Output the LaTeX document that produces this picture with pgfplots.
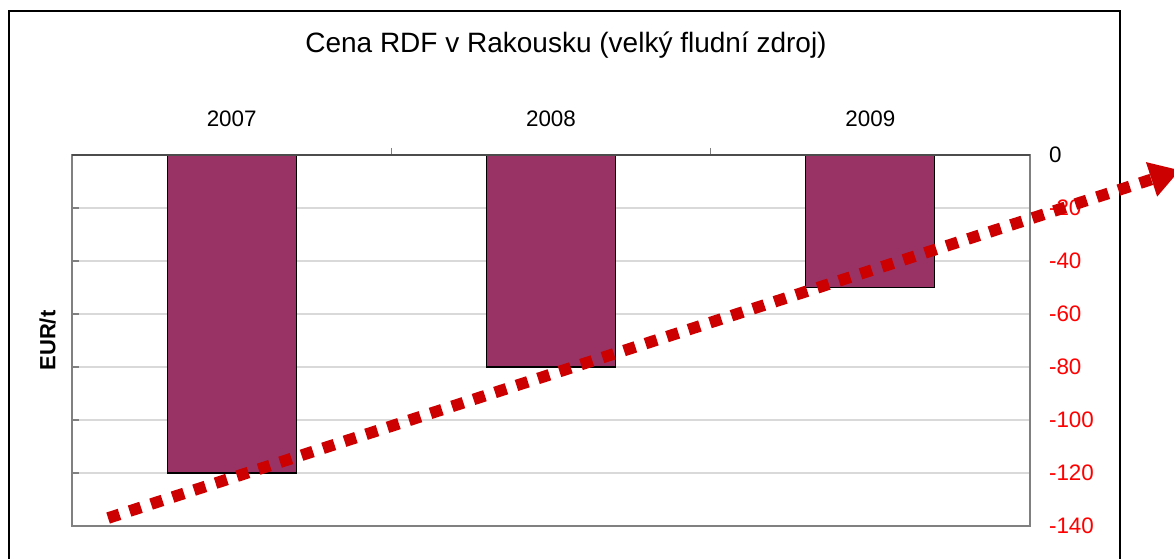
\documentclass[border=0pt]{standalone}
\usepackage{fontspec}
\setmainfont{Liberation Sans}
\usepackage{pgfplots}
\pgfplotsset{compat=1.18}
\usetikzlibrary{arrows.meta}
\definecolor{barplum}{HTML}{993366}
\definecolor{arrowred}{HTML}{CC0000}
\definecolor{labred}{HTML}{FF0000}

\begin{document}
\begin{tikzpicture}
\path[use as bounding box] (0,0) rectangle (587pt,279pt);
% chart frame (runs off the bottom of the page)
\draw[line width=1pt] (4.5pt,-6pt) rectangle (560pt,273.5pt);
\node[font=\fontsize{14}{16}\selectfont] at (283pt,256.5pt)
  {Cena RDF v Rakousku (velký fludní zdroj)};
\begin{axis}[
  at={(36pt,16pt)}, anchor=south west,
  scale only axis, width=479pt, height=185.5pt,
  xmin=-0.5, xmax=2.5, ymin=-140, ymax=0,
  ybar, bar width=64.5pt,
  xtick={0.5,1.5}, xticklabels={},
  xtick style={yshift=3.5pt},
  extra x ticks={0,1,2}, extra x tick labels={2007,2008,2009},
  extra x tick style={major tick length=0pt},
  xtick pos=right, xticklabel pos=right,
  xticklabel style={font=\fontsize{11.2}{13}\selectfont, anchor=center, yshift=18pt},
  ytick={-140,-120,-100,-80,-60,-40,-20,0},
  yticklabels={\textcolor{labred}{-140},\textcolor{labred}{-120},\textcolor{labred}{-100},
    \textcolor{labred}{-80},\textcolor{labred}{-60},\textcolor{labred}{-40},
    \textcolor{labred}{-20},0},
  ytick pos=left, yticklabel pos=right,
  yticklabel style={font=\fontsize{11.2}{13}\selectfont, anchor=west, xshift=6pt},
  tick align=inside, major tick length=3.5pt,
  tick style={gray, line width=0.8pt},
  ymajorgrids, grid style={gray!30, line width=0.6pt},
  axis line style={gray, line width=0.8pt},
  ylabel={\bfseries EUR/t},
  ylabel style={font=\fontsize{11}{13}\selectfont, at={(axis description cs:-0.0255,0.5)}, anchor=center},
]
\addplot[fill=barplum, draw=black, line width=0.6pt]
  coordinates {(0,-120) (1,-80) (2,-50)};
\draw[black!70, line width=0.8pt] (rel axis cs:0,1) -- (rel axis cs:1,1);
\coordinate (A) at (axis cs:-0.387,-137);
\coordinate (B) at (axis cs:2.97,-5.7);
\end{axis}
\draw[arrowred, line width=5.8pt, dash pattern=on 6pt off 5.3pt,
  -{Triangle[length=15pt,width=17pt]}] (A) -- (B);
\end{tikzpicture}
\end{document}
